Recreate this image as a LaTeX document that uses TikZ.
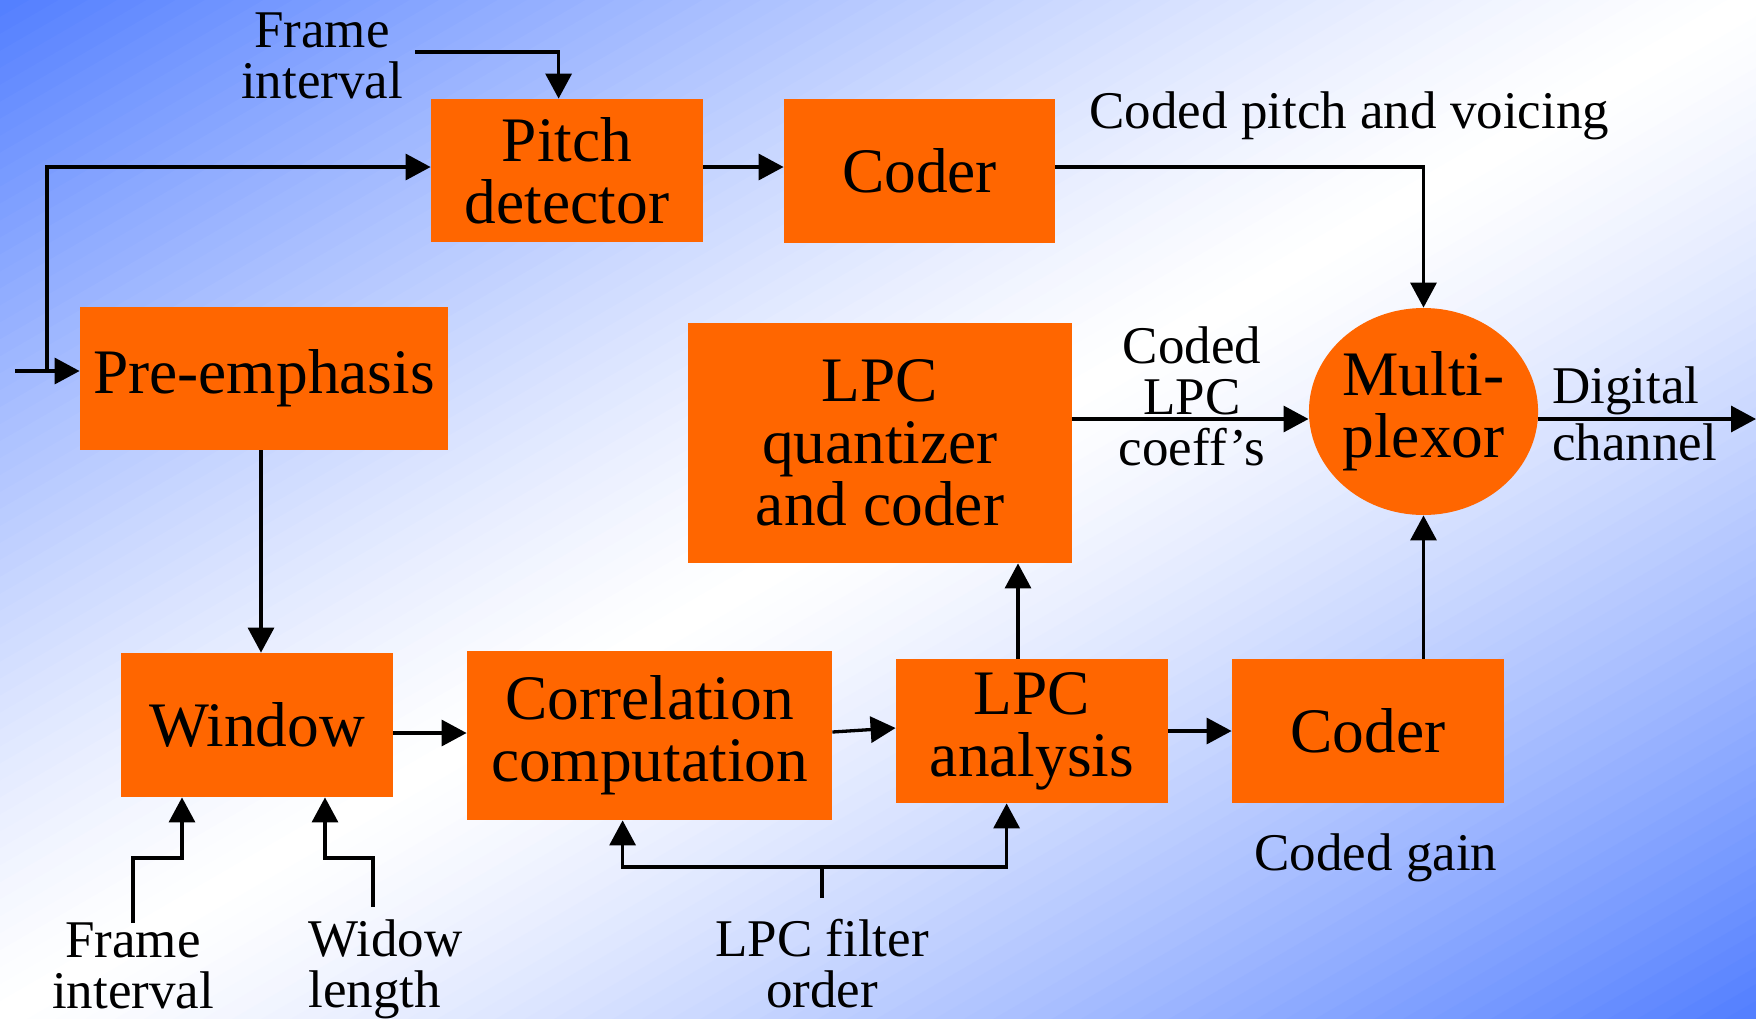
\documentclass[tikz,border=0pt]{standalone}
\usepackage{fontspec}
\setmainfont{Liberation Serif}
\usetikzlibrary{arrows.meta,shapes.geometric,calc}
\definecolor{bgblue}{RGB}{82,126,255}
\definecolor{boxorange}{RGB}{255,102,0}
\begin{document}
\begin{tikzpicture}[x=0.5pt,y=-0.5pt,
  blk/.style={rectangle, fill=boxorange, inner sep=0pt, align=center,
    font=\fontsize{31.7pt}{31pt}\selectfont},
  lbl/.style={inner sep=0pt, align=center,
    font=\fontsize{26.5pt}{25.5pt}\selectfont},
  arr/.style={line width=1.65pt, -{Triangle[length=12.5pt,width=13pt]}},
  ln/.style={line width=1.65pt}]

% background: blue in the top-left and bottom-right corners,
% white along the diagonal from bottom-left to top-right
\useasboundingbox (0,0) rectangle (1756,1018);
\begin{scope}
  \clip (0,0) rectangle (1756,1018);
  \fill[white] (0,0) rectangle (1756,1018);
  \foreach \i in {0,...,119} {
    \pgfmathsetmacro{\ua}{\i/60}
    \pgfmathsetmacro{\ub}{(\i+1.6)/60}
    \pgfmathsetmacro{\p}{100*(abs((\i+0.5)/60-1))^1.3}
    \fill[bgblue!\p!white] ({\ua*1756+1756},-1018) -- (-1756,{\ua*1018+1018})
      -- (-1756,{\ub*1018+1018}) -- ({\ub*1756+1756},-1018) -- cycle;
  }
\end{scope}

% processing blocks
\node[blk, minimum width=136pt, minimum height=71.5pt] (pitch) at (567,170.5) {Pitch\\detector};
\node[blk, minimum width=135.5pt, minimum height=72pt] (coderA) at (919.5,171) {Coder};
\node[blk, minimum width=184pt, minimum height=71.5pt] (pre) at (264,378.5) {Pre-emphasis};
\node[blk, minimum width=192pt, minimum height=120pt] (quant) at (880,443) {LPC\\quantizer\\and coder};
\node[ellipse, fill=boxorange, inner sep=0pt, align=center,
  font=\fontsize{31.7pt}{31pt}\selectfont,
  minimum width=111.5pt, minimum height=103.5pt] (mux) at (1423.5,411.5) {Multi-\\plexor};
\node[blk, minimum width=136pt, minimum height=72pt] (window) at (257,725) {Window};
\node[blk, minimum width=182.5pt, minimum height=84.5pt] (corr) at (649.5,735.5) {Correlation\\computation};
\node[blk, minimum width=136pt, minimum height=72pt] (lpca) at (1032,731) {LPC\\analysis};
\node[blk, minimum width=136pt, minimum height=72pt] (coderB) at (1368,731) {Coder};

% labels (anchored on the baseline of their last line)
\node[lbl, anchor=base] (fiA) at (322,98) {Frame\\interval};
\node[lbl, anchor=base west] (cpv) at (1089,128) {Coded pitch and voicing};
\node[lbl, anchor=base] (clpc) at (1192,465) {Coded\\LPC\\coeff’s};
\node[lbl, anchor=base west, align=left,
  font=\fontsize{26.5pt}{28.5pt}\selectfont] (dch) at (1552,460) {Digital\\channel};
\node[lbl, anchor=base] (fiB) at (133,1008) {Frame\\interval};
\node[lbl, anchor=base west, align=left] (wl) at (308,1007) {Widow\\length};
\node[lbl, anchor=base] (fo) at (822,1007) {LPC filter\\order};
\node[lbl, anchor=base west] (cg) at (1254,870) {Coded gain};

% free ends and bends
\coordinate (fiAs) at (415,52);
\coordinate (in) at (15,371);
\coordinate (split) at (47,371);
\coordinate (out) at (1756,419);
\coordinate (fiBs) at (133,923);
\coordinate (fiBk) at (182,858);
\coordinate (wls) at (373,907);
\coordinate (wlk) at (325,858);
\coordinate (fos) at (822,898);
\coordinate (fom) at (822,867);

% connectors
\draw[arr] (fiAs) -| ($(pitch.north west)+(128,0)$);
\draw[arr] (in) -- (pre.west |- in);
\draw[arr] (split) |- ($(pitch.west)+(0,-3.5)$);
\draw[arr] ($(pitch.east)+(0,-3.5)$) -- ($(coderA.west)+(0,-4)$);
\draw[arr] ($(coderA.east)+(0,-4)$) -| (mux.north);
\draw[arr] ($(pre.south)+(-3,0)$) -- ($(pre.south |- window.north)+(-3,0)$);
\draw[arr] ($(window.east)+(0,8)$) -- ($(corr.west |- window.east)+(0,8)$);
\draw[arr] ($(corr.east)+(0,-3.5)$) -- ($(lpca.west)+(0,-3)$);
\draw[arr] (lpca) -- (coderB);
\draw[arr] ($(lpca.north)+(-14,0)$) -- ($(lpca.north |- quant.south)+(-14,0)$);
\draw[arr] (coderB.north -| mux.south) -- (mux.south);
\draw[arr] ($(quant.east)+(0,-24)$) -- ($(mux.west)+(0,7.5)$);
\draw[arr] ($(mux.east)+(0,7.5)$) -- (out);
\draw[arr] (fiBs) |- (fiBk) -- (fiBk |- window.south);
\draw[arr] (wls) |- (wlk) -- (wlk |- window.south);
\draw[ln] (fos) -- (fom);
\draw[arr] (fom) -| ($(corr.south west)+(156,0)$);
\draw[arr] (fom) -| ($(lpca.south west)+(111,0)$);
\end{tikzpicture}
\end{document}
